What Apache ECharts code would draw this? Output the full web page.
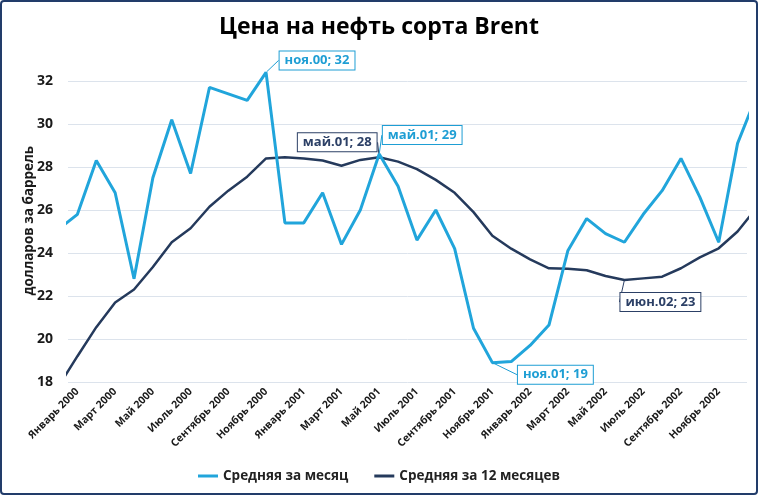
<!DOCTYPE html>
<html><head><meta charset="utf-8">
<script src="https://cdn.jsdelivr.net/npm/echarts@6/dist/echarts.min.js"></script>
<style>html,body{margin:0;padding:0;background:#fff}#c{width:758px;height:495px}</style>
</head><body><div id="c"></div>
<script>
// Months (first and last are edge points partially visible at the plot borders)
const categories = [
  'Декабрь 1999',
  'Январь 2000','Февраль 2000','Март 2000','Апрель 2000','Май 2000','Июнь 2000',
  'Июль 2000','Август 2000','Сентябрь 2000','Октябрь 2000','Ноябрь 2000','Декабрь 2000',
  'Январь 2001','Февраль 2001','Март 2001','Апрель 2001','Май 2001','Июнь 2001',
  'Июль 2001','Август 2001','Сентябрь 2001','Октябрь 2001','Ноябрь 2001','Декабрь 2001',
  'Январь 2002','Февраль 2002','Март 2002','Апрель 2002','Май 2002','Июнь 2002',
  'Июль 2002','Август 2002','Сентябрь 2002','Октябрь 2002','Ноябрь 2002','Декабрь 2002',
  'Январь 2003'
];
const fullMonthNames = ['Январь','Февраль','Март','Апрель','Май','Июнь','Июль','Август','Сентябрь','Октябрь','Ноябрь','Декабрь'];
const monthAbbr = ['янв','фев','мар','апр','май','июн','июл','авг','сен','окт','ноя','дек'];

const monthlyAvg = [
  25.1,
  25.8, 28.3, 26.8, 22.8, 27.5, 30.2, 27.7, 31.7, 31.4, 31.1, 32.4, 25.4,
  25.4, 26.8, 24.4, 26.0, 28.6, 27.1, 24.6, 26.0, 24.2, 20.5, 18.9, 18.95,
  19.7, 20.65, 24.1, 25.6, 24.9, 24.5, 25.8, 26.9, 28.4, 26.6, 24.5, 29.1,
  31.3
];
const avg12 = [
  17.8,
  19.2, 20.55, 21.7, 22.3, 23.35, 24.5, 25.15, 26.15, 26.9, 27.55, 28.4, 28.45,
  28.4, 28.3, 28.06, 28.33, 28.45, 28.25, 27.9, 27.4, 26.8, 25.9, 24.8, 24.2,
  23.7, 23.29, 23.27, 23.2, 22.93, 22.74, 22.82, 22.9, 23.29, 23.8, 24.22, 25.0,
  26.1
];
const yTicks = [18, 20, 22, 24, 26, 28, 30, 32];
// x label positions: every second month starting with Январь 2000 (index 1)
const xLabelIdx = [1, 3, 5, 7, 9, 11, 13, 15, 17, 19, 21, 23, 25, 27, 29, 31, 33, 35];

const seriesNames = ['Средняя за месяц', 'Средняя за 12 месяцев'];
const colors = ['#21A5DB', '#253A5C'];
const labelColors = ['#1E9ED4', '#2C4066'];

// callouts: series, data index, label offset from point (px)
const callouts = [
  { s: 0, i: 11, dx: 51, dy: -12 },
  { s: 1, i: 17, dx: -42, dy: -15 },
  { s: 0, i: 17, dx: 43, dy: -19 },
  { s: 0, i: 23, dx: 63, dy: 12 },
  { s: 1, i: 30, dx: 36, dy: 22 }
];

function shortName(i) {
  const parts = categories[i].split(' ');
  return monthAbbr[fullMonthNames.indexOf(parts[0])] + '.' + parts[1].slice(2);
}

const lookup = [{}, {}];
callouts.forEach(c => { lookup[c.s][c.i] = c; });

function buildData(values, s) {
  return values.map((v, i) => {
    const item = { value: [i - 1, v] };
    if (lookup[s][i]) {
      item.label = {
        show: true,
        formatter: shortName(i) + '; ' + Math.round(v),
        color: labelColors[s],
        fontWeight: 'bold',
        fontSize: 13,
        fontFamily: 'Open Sans',
        backgroundColor: '#fff',
        borderColor: labelColors[s],
        borderWidth: 1,
        padding: [3, 5, 2, 5]
      };
      item.labelLine = { show: true, lineStyle: { color: labelColors[s], width: 1 } };
    }
    return item;
  });
}

function makeSeries(values, s) {
  return {
    name: seriesNames[s],
    type: 'line',
    data: buildData(values, s),
    symbol: 'circle',
    symbolSize: 1,
    showSymbol: true,
    clip: true,
    z: s === 0 ? 3 : 2,
    lineStyle: { color: colors[s], width: s === 0 ? 3 : 2.5 },
    itemStyle: { color: colors[s] },
    emphasis: { disabled: true },
    labelLine: { show: false },
    labelLayout: function (p) {
      const c = lookup[s][p.dataIndex];
      if (!c) return {};
      return {
        x: p.rect.x + p.rect.width / 2 + c.dx,
        y: p.rect.y + p.rect.height / 2 + c.dy,
        align: 'center',
        verticalAlign: 'middle'
      };
    }
  };
}

const chart = echarts.init(document.getElementById('c'), null, { renderer: 'canvas' });
chart.setOption({
  animation: false,
  backgroundColor: '#fff',
  textStyle: { fontFamily: 'Open Sans' },
  title: {
    text: 'Цена на нефть сорта Brent',
    left: 'center',
    top: 11,
    textStyle: { fontSize: 23, fontWeight: 'bold', color: '#000', fontFamily: 'Open Sans' }
  },
  legend: {
    top: 464,
    left: 'center',
    itemWidth: 20,
    itemHeight: 3,
    itemGap: 26,
    icon: 'rect',
    textStyle: { fontSize: 13.5, fontWeight: 'bold', color: '#222', fontFamily: 'Open Sans' },
    data: seriesNames
  },
  grid: { left: 68, right: 11, top: 59.5, bottom: 113, containLabel: false },
  xAxis: {
    type: 'value',
    min: -0.5,
    max: 35.5,
    axisLine: { show: false },
    axisTick: { show: false },
    splitLine: { show: false },
    axisLabel: {
      customValues: xLabelIdx.map(i => i - 1),
      formatter: v => categories[Math.round(v) + 1],
      rotate: 45,
      margin: 8,
      fontSize: 10.5,
      fontWeight: 'bold',
      color: '#1a1a1a',
      fontFamily: 'Open Sans'
    }
  },
  yAxis: {
    type: 'value',
    min: 18,
    max: 33,
    name: 'долларов за баррель',
    nameLocation: 'middle',
    nameGap: 32,
    nameMoveOverlap: false,
    nameTextStyle: { fontSize: 13.5, fontWeight: 'bold', color: '#1a1a1a', fontFamily: 'Open Sans' },
    axisLine: { show: false },
    axisTick: { show: false, customValues: yTicks },
    axisLabel: {
      customValues: yTicks,
      margin: 15,
      fontSize: 14,
      fontWeight: 'bold',
      color: '#1a1a1a',
      fontFamily: 'Open Sans'
    },
    splitLine: { show: true, lineStyle: { color: '#DCE3EC', width: 1 } }
  },
  graphic: [{
    type: 'rect',
    z: 100,
    shape: { x: 1, y: 1, width: 756, height: 493, r: 3 },
    style: { fill: 'none', stroke: '#223C6A', lineWidth: 2 }
  }],
  series: [makeSeries(monthlyAvg, 0), makeSeries(avg12, 1)]
});
</script>
</body></html>
